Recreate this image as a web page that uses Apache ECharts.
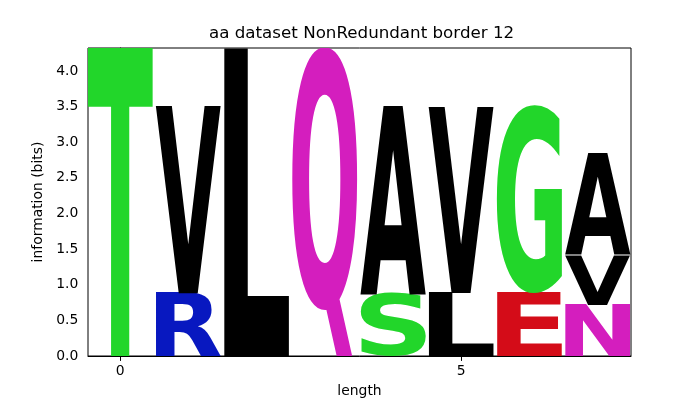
<!DOCTYPE html>
<html>
<head>
<meta charset="utf-8">
<script src="https://cdn.jsdelivr.net/npm/echarts@6/dist/echarts.min.js"></script>
<style>
    html, body { margin: 0; padding: 0; background: #fff; }
    #chart { width: 700px; height: 400px; }
</style>
</head>
<body>
<div id="chart"></div>
<script>
    // columns of the logo, letters stacked bottom -> top, with their heights in bits
    const positions = [0, 1, 2, 3, 4, 5, 6, 7];
    const letters = [['T'], ['R', 'V'], ['L'], ['Q'], ['S', 'A'], ['L', 'V'], ['E', 'G'], ['N', 'V', 'A']];
    const heights = [[4.32], [0.88, 2.63], [4.32], [4.32], [0.88, 2.63], [0.89, 2.62], [0.89, 2.62], [0.72, 0.70, 1.41]];
    const yTicks = [0, 0.5, 1, 1.5, 2, 2.5, 3, 3.5, 4];
    const xTicks = [0, 5];
    const letterColors = {
        T: '#22d62a', S: '#22d62a', G: '#22d62a',
        R: '#0818c0',
        Q: '#d41ebe', N: '#d41ebe',
        E: '#d40c18',
        V: '#000000', L: '#000000', A: '#000000'
    };

    const FONT_SIZE = 200;
    const FONT = 'bold ' + FONT_SIZE + 'px "DejaVu Sans"';
    const LETTER_WIDTH = 0.95;

    // find the inked bounds of a glyph (drawn like zrender does: left / middle)
    const scanCanvas = document.createElement('canvas');
    scanCanvas.width = FONT_SIZE * 2;
    scanCanvas.height = FONT_SIZE * 2;
    const scanCtx = scanCanvas.getContext('2d');
    const boxCache = {};
    function glyphBox(ch) {
        if (boxCache[ch]) return boxCache[ch];
        let W = scanCanvas.width, H = scanCanvas.height;
        let ox = FONT_SIZE / 2, oy = FONT_SIZE;
        scanCtx.clearRect(0, 0, W, H);
        scanCtx.font = FONT;
        scanCtx.textAlign = 'left';
        scanCtx.textBaseline = 'middle';
        scanCtx.fillStyle = '#000';
        scanCtx.fillText(ch, ox, oy);
        let px = scanCtx.getImageData(0, 0, W, H).data;
        let minX = W, maxX = -1, minY = H, maxY = -1;
        for (let y = 0; y < H; y++) {
            for (let x = 0; x < W; x++) {
                if (px[(y * W + x) * 4 + 3] > 127) {
                    if (x < minX) minX = x;
                    if (x > maxX) maxX = x;
                    if (y < minY) minY = y;
                    if (y > maxY) maxY = y;
                }
            }
        }
        boxCache[ch] = {
            left: ox - minX,
            ascent: oy - minY,
            w: maxX + 1 - minX,
            h: maxY + 1 - minY
        };
        return boxCache[ch];
    }

    let logoData = [];
    let logoLetters = [];
    positions.forEach(function (x, i) {
        let base = 0;
        letters[i].forEach(function (ch, j) {
            logoData.push([x, base, base + heights[i][j]]);
            logoLetters.push(ch);
            base += heights[i][j];
        });
    });

    let myChart = echarts.init(document.getElementById('chart'));
    let option = {
        animation: false,
        textStyle: { fontFamily: 'DejaVu Sans' },
        title: {
            text: 'aa dataset NonRedundant border 12',
            left: 209,
            top: 25,
            padding: 0,
            textStyle: { fontFamily: 'DejaVu Sans', fontSize: 16.7, fontWeight: 'normal', color: '#000' }
        },
        grid: {
            left: 88, top: 48, width: 543, height: 308,
            show: true, borderColor: '#000', borderWidth: 1,
            backgroundColor: 'transparent',
            outerBoundsMode: 'none'
        },
        xAxis: {
            type: 'value',
            min: -0.47,
            max: 7.49,
            name: 'length',
            nameLocation: 'middle',
            nameGap: 28,
            nameTextStyle: { fontFamily: 'DejaVu Sans', fontSize: 13.9, color: '#000' },
            axisLine: { lineStyle: { color: '#000', width: 1 } },
            axisTick: { show: true, length: 4.9, lineStyle: { color: '#000' }, customValues: xTicks },
            axisLabel: { margin: 8, fontSize: 13.9, color: '#000', fontFamily: 'DejaVu Sans', customValues: xTicks },
            splitLine: { show: false }
        },
        yAxis: {
            type: 'value',
            min: 0,
            max: 4.3219,
            name: 'information (bits)',
            nameLocation: 'middle',
            nameGap: 37,
            nameTextStyle: { fontFamily: 'DejaVu Sans', fontSize: 13.9, color: '#000' },
            axisLine: { show: true, lineStyle: { color: '#000', width: 1 } },
            axisTick: { show: true, length: 4.9, lineStyle: { color: '#000' }, customValues: yTicks },
            axisLabel: {
                margin: 9.7, fontSize: 13.9, color: '#000', fontFamily: 'DejaVu Sans',
                customValues: yTicks,
                formatter: function (v) { return v.toFixed(1); }
            },
            splitLine: { show: false }
        },
        series: [
            {
                type: 'custom',
                silent: true,
                clip: true,
                data: logoData,
                encode: { x: 0, y: [1, 2] },
                renderItem: function (params, api) {
                    let x = api.value(0), y0 = api.value(1), y1 = api.value(2);
                    let ch = logoLetters[params.dataIndex];
                    let p0 = api.coord([x - LETTER_WIDTH / 2, y1]);
                    let p1 = api.coord([x + LETTER_WIDTH / 2, y0]);
                    let b = glyphBox(ch);
                    let sx = (p1[0] - p0[0]) / b.w;
                    let sy = (p1[1] - p0[1]) / b.h;
                    return {
                        type: 'text',
                        x: p0[0] + sx * b.left,
                        y: p0[1] + sy * b.ascent,
                        scaleX: sx,
                        scaleY: sy,
                        style: {
                            text: ch,
                            font: FONT,
                            fill: letterColors[ch],
                            align: 'left',
                            verticalAlign: 'middle'
                        }
                    };
                }
            }
        ]
    };
    myChart.setOption(option);
</script>
</body>
</html>
